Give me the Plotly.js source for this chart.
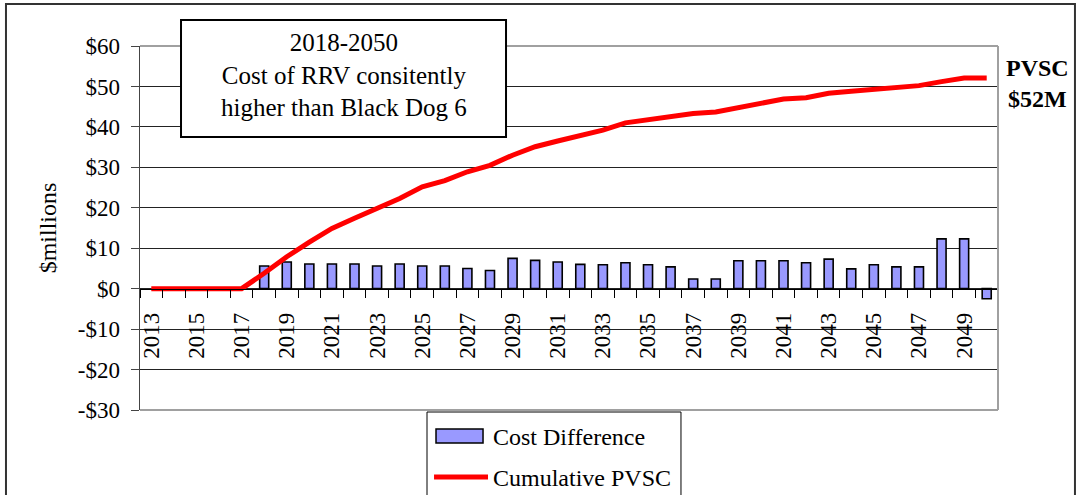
<!DOCTYPE html>
<html>
<head>
<meta charset="utf-8">
<script src="https://cdn.plot.ly/plotly-3.0.1.min.js"></script>
<style>
html,body{margin:0;padding:0;background:#fff;}
#chart{width:1077px;height:495px;}
</style>
</head>
<body>
<div id="chart"></div>
<script>
// ---- data ----
const years = [2013,2014,2015,2016,2017,2018,2019,2020,2021,2022,2023,2024,2025,2026,2027,2028,2029,2030,2031,2032,2033,2034,2035,2036,2037,2038,2039,2040,2041,2042,2043,2044,2045,2046,2047,2048,2049,2050];
const costDifference = [null,null,null,null,null,5.6,6.6,6.1,6.1,6.1,5.6,6.1,5.6,5.6,5.0,4.5,7.5,7.0,6.6,6.0,5.9,6.4,5.9,5.4,2.4,2.4,6.9,6.9,6.9,6.4,7.3,4.9,5.9,5.4,5.4,12.3,12.3,-2.5];
const cumulativePVSC = [0,0,0,0,0,3.8,7.9,11.5,14.9,17.4,19.8,22.3,25.2,26.7,28.9,30.5,33.0,35.1,36.5,37.9,39.2,41.0,41.8,42.7,43.3,43.7,44.7,45.9,46.9,47.2,48.3,48.8,49.3,49.8,50.2,51.2,52.1,52.1];
const yTickVals = [-30,-20,-10,0,10,20,30,40,50,60];
const yTickLabels = ['-$30','-$20','-$10','$0','$10','$20','$30','$40','$50','$60'];
const seriesNames = ['Cost Difference','Cumulative PVSC'];
const yAxisTitle = '$millions';
const boxText = ['2018-2050','Cost of RRV \u0063onsitently','higher than Black Dog 6'];
const endLabel = ['PVSC','$52M'];

const FONT = '"Liberation Serif", "Times New Roman", serif';
const BAR_FILL = '#9999FF';
const LINE_RED = '#FF0000';

const traces = [
  {
    type:'bar', x:years, y:costDifference, name:seriesNames[0],
    width:0.4,
    marker:{color:BAR_FILL, line:{color:'#000000', width:1.6}},
    hoverinfo:'x+y'
  },
  {
    type:'scatter', mode:'lines', x:years, y:cumulativePVSC, name:seriesNames[1],
    line:{color:LINE_RED, width:5},
    hoverinfo:'x+y'
  }
];

// manual legend (paper coordinates)
const legendShapes = [
  {type:'rect', xref:'paper', yref:'paper', x0:0.3345, x1:0.6305, y0:-0.4, y1:-0.0055, line:{color:'#000', width:1}, fillcolor:'#ffffff', layer:'above'},
  {type:'rect', xref:'paper', yref:'paper', x0:0.345, x1:0.3998, y0:-0.0907, y1:-0.0522, line:{color:'#000', width:1.5}, fillcolor:BAR_FILL, layer:'above'},
  {type:'line', xref:'paper', yref:'paper', x0:0.3427, x1:0.4056, y0:-0.184, y1:-0.184, line:{color:LINE_RED, width:5}, layer:'above'}
];
const legendTexts = [
  {xref:'paper', yref:'paper', x:0.4091, y:-0.0742, xanchor:'left', yanchor:'middle', showarrow:false,
   text:seriesNames[0], font:{family:FONT, size:24, color:'#000'}},
  {xref:'paper', yref:'paper', x:0.4091, y:-0.1868, xanchor:'left', yanchor:'middle', showarrow:false,
   text:seriesNames[1], font:{family:FONT, size:24, color:'#000'}}
];

const layout = {
  width:1077, height:495,
  margin:{l:140, r:79, t:46, b:85},
  paper_bgcolor:'#ffffff', plot_bgcolor:'#ffffff',
  font:{family:FONT, size:23, color:'#000'},
  showlegend:false,
  xaxis:{
    range:[2012.5, 2050.5],
    anchor:'free', position:1/3,
    showgrid:false, zeroline:false,
    showline:true, linecolor:'#000', linewidth:1,
    tickmode:'linear', tick0:2013, dtick:2,
    ticks:'', tickangle:-90,
    ticklabelstandoff:14,
    tickfont:{family:FONT, size:23, color:'#000'},
    minor:{tick0:2012.5, dtick:1, ticks:'outside', ticklen:8, tickcolor:'#000', tickwidth:1, showgrid:false}
  },
  yaxis:{
    range:[-30,60],
    tickmode:'array', tickvals:yTickVals, ticktext:yTickLabels,
    showgrid:true, gridcolor:'#222', gridwidth:1,
    zeroline:false,
    showline:true, linecolor:'#444', linewidth:1.5,
    ticks:'outside', ticklen:8, tickcolor:'#444', tickwidth:1,
    ticklabelstandoff:6,
    tickfont:{family:FONT, size:23, color:'#000'},
    title:{text:yAxisTitle, font:{family:FONT, size:24, color:'#000'}, standoff:14}
  },
  shapes:[
    // plot area border (top, right, bottom)
    {type:'line', xref:'paper', yref:'paper', x0:0, x1:1, y0:1, y1:1, line:{color:'#a0a0a0', width:2}, layer:'above'},
    {type:'line', xref:'paper', yref:'paper', x0:1, x1:1, y0:0, y1:1, line:{color:'#a0a0a0', width:2}, layer:'above'},
    {type:'line', xref:'paper', yref:'paper', x0:0, x1:1, y0:0, y1:0, line:{color:'#a0a0a0', width:2}, layer:'above'},
    // outer chart frame
    {type:'rect', xref:'paper', yref:'paper', x0:-0.1562, x1:1.0897, y0:-0.4, y1:1.1154, line:{color:'#333', width:2}, fillcolor:'rgba(0,0,0,0)', layer:'above'},
    // text box
    {type:'rect', xref:'paper', yref:'paper', x0:0.0478, x1:0.4266, y0:0.75, y1:1.0714, line:{color:'#000', width:2}, fillcolor:'#ffffff', layer:'above'}
  ].concat(legendShapes),
  annotations:[
    {xref:'paper', yref:'paper', x:0.2372, y:0.9203, xanchor:'center', yanchor:'middle', showarrow:false,
     text:boxText.join('<br>'), align:'center', font:{family:FONT, size:25, color:'#000'}},
    {xref:'paper', yref:'paper', x:1.0466, y:0.898, xanchor:'center', yanchor:'middle', showarrow:false,
     text:'<b>'+endLabel.join('<br>')+'</b>', align:'center', font:{family:FONT, size:24, color:'#000'}}
  ].concat(legendTexts)
};

Plotly.newPlot('chart', traces, layout, {displayModeBar:false, staticPlot:true});
</script>
</body>
</html>
